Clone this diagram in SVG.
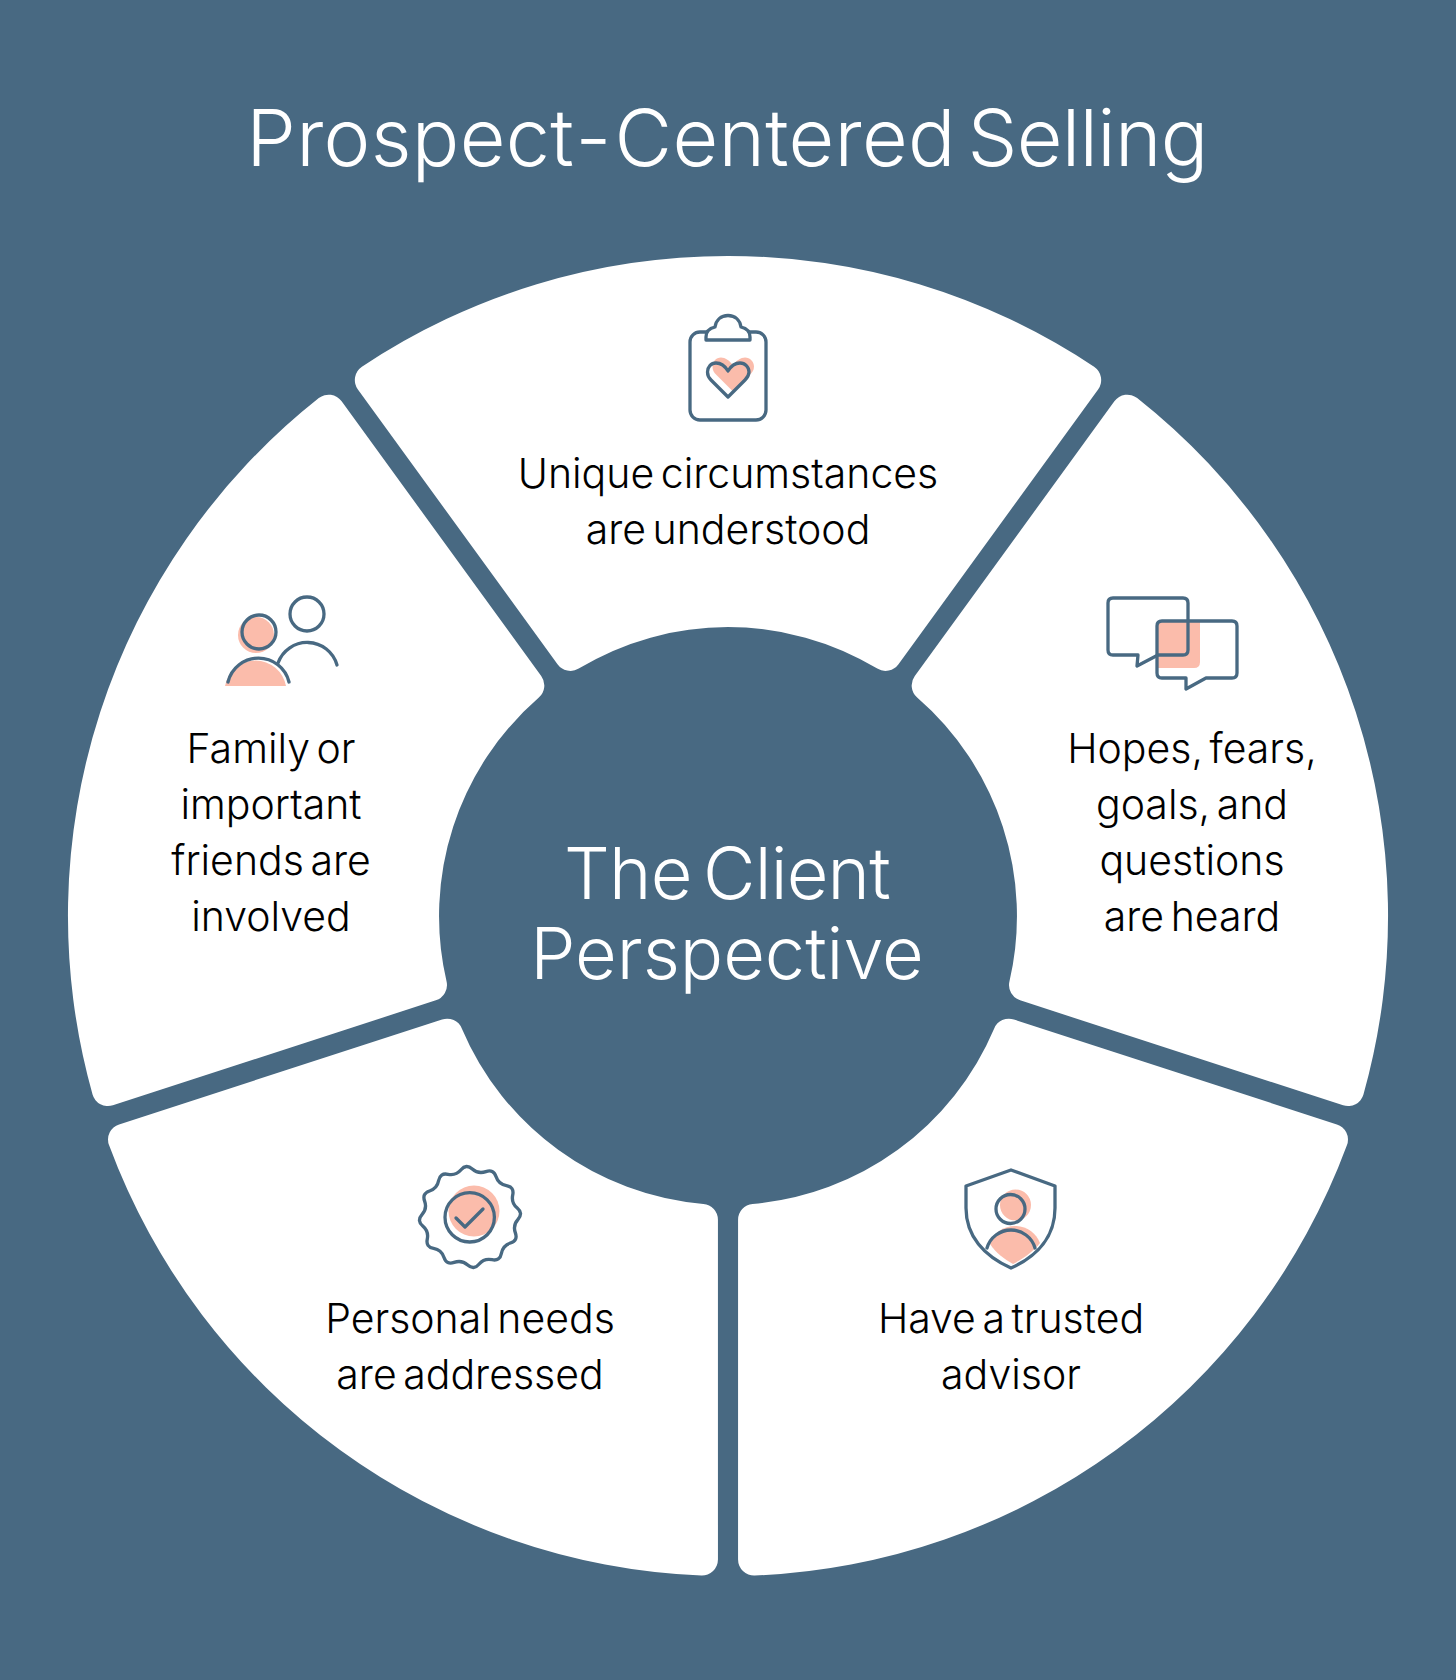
<svg xmlns="http://www.w3.org/2000/svg" width="1456" height="1680" viewBox="0 0 1456 1680">
<style>
.bg{fill:#486982}
.seg{fill:#fff}
.pink{fill:#fbbcab;stroke:none}
.ln{fill:none;stroke:#486982;stroke-width:3.3;stroke-linecap:round;stroke-linejoin:round}
text{font-family:"Inter","Liberation Sans",sans-serif;text-anchor:middle}
.t{font-size:41px;fill:#000;font-weight:360;letter-spacing:0;word-spacing:-5px}
.h{font-size:79px;fill:#fff;font-weight:350;letter-spacing:0.3px;word-spacing:-14px}
.c{font-size:72px;fill:#fff;font-weight:350}
</style>
<defs>
<path id="sector" d="M-366.1,-549.2 A660,660 0 0 1 366.1,-549.2 A16,16 0 0 1 370.1,-526.5 L170.5,-251.8 A16,16 0 0 1 149.3,-247.4 A289,289 0 0 0 -149.3,-247.4 A16,16 0 0 1 -170.5,-251.8 L-370.1,-526.5 A16,16 0 0 1 -366.1,-549.2 Z"/>
<path id="heart" d="M728,371 C725,366 720,363 716,363 C711,363 707.5,367 707.5,372 C707.5,376 709,378 711,380 L728,397 L745,380 C747,378 749,376 749,372 C749,367 745,363 740,363 C736,363 731,366 728,371 Z"/>
</defs>
<rect class="bg" width="1456" height="1680"/>
<text id="title" class="h" x="727" y="166">Prospect<tspan dx="3">-</tspan><tspan dx="3">Centered</tspan> <tspan dx="3" letter-spacing="-0.7">Selling</tspan></text>

<g id="node-top">
<use href="#sector" class="seg" transform="translate(728,916)"/>
<use href="#heart" class="pink" transform="translate(5,-5.5)"/>
<rect class="ln" x="690" y="332" width="76" height="88" rx="10"/>
<path class="ln" style="fill:#fff" d="M706,340 H750 V337 Q750,329 741,327 C740,320 735,315.5 728,315.5 C721,315.5 716,320 715,327 Q706,329 706,337 Z"/>
<use href="#heart" class="ln"/>
<text class="t" x="728" y="488">Unique circumstances</text>
<text class="t" x="728" y="544">are understood</text>
</g>

<g id="node-right">
<use href="#sector" class="seg" transform="translate(728,916) rotate(72)"/>
<path class="pink" d="M1158,622 H1200 V662 Q1200,668 1194,668 H1158 Z"/>
<path class="ln" d="M1113,598 H1183 Q1188,598 1188,603 V650 Q1188,655 1183,655 H1158 L1137,666 L1138,655 H1113 Q1108,655 1108,650 V603 Q1108,598 1113,598 Z"/>
<path class="ln" d="M1162,621 H1232 Q1237,621 1237,626 V673 Q1237,678 1232,678 H1206 L1186,689 V678 H1162 Q1157,678 1157,673 V626 Q1157,621 1162,621 Z"/>
<text class="t" x="1192" y="763">Hopes, fears,</text>
<text class="t" x="1192" y="819">goals, and</text>
<text class="t" x="1192" y="875">questions</text>
<text class="t" x="1192" y="931">are heard</text>
</g>

<g id="node-bottom-right">
<use href="#sector" class="seg" transform="translate(728,916) rotate(144)"/>
<circle class="pink" cx="1015.5" cy="1205" r="15.5"/>
<path class="pink" d="M990,1244 C994,1232 1004,1226 1015,1226 C1027,1226 1036,1233 1040,1243 C1034,1251 1024,1258 1013,1264 C1004,1259 996,1253 990,1244 Z"/>
<path class="ln" d="M1011,1170 L1055,1186 V1208 C1055,1236 1038,1256 1011,1268 C984,1256 966,1236 966,1208 V1186 Z"/>
<circle class="ln" cx="1010.5" cy="1209" r="14.5"/>
<path class="ln" d="M987,1248 A25,25 0 0 1 1035,1248"/>
<text class="t" x="1011" y="1333">Have a trusted</text>
<text class="t" x="1011" y="1389">advisor</text>
</g>

<g id="node-bottom-left">
<use href="#sector" class="seg" transform="translate(728,916) rotate(216)"/>
<circle class="pink" cx="474" cy="1211" r="25.5"/>
<path class="ln" transform="translate(470,1217) rotate(-4) scale(1.01)" d="M5.57,-47.27 Q11.13,-41.53 18.82,-43.72 Q26.5,-45.9 28.46,-38.16 Q30.41,-30.41 38.16,-28.46 Q45.9,-26.5 43.72,-18.82 Q41.53,-11.13 47.27,-5.57 Q53,0 47.27,5.57 Q41.53,11.13 43.72,18.82 Q45.9,26.5 38.16,28.46 Q30.41,30.41 28.46,38.16 Q26.5,45.9 18.82,43.72 Q11.13,41.53 5.57,47.27 Q0,53 -5.57,47.27 Q-11.13,41.53 -18.82,43.72 Q-26.5,45.9 -28.46,38.16 Q-30.41,30.41 -38.16,28.46 Q-45.9,26.5 -43.72,18.82 Q-41.53,11.13 -47.27,5.57 Q-53,0 -47.27,-5.57 Q-41.53,-11.13 -43.72,-18.82 Q-45.9,-26.5 -38.16,-28.46 Q-30.41,-30.41 -28.46,-38.16 Q-26.5,-45.9 -18.82,-43.72 Q-11.13,-41.53 -5.57,-47.27 Q0,-53 5.57,-47.27 Z"/>
<circle class="ln" cx="469.7" cy="1217.3" r="24.7"/>
<path class="ln" d="M456,1218 L465,1227 L483,1209"/>
<text class="t" x="470" y="1333">Personal needs</text>
<text class="t" x="470" y="1389">are addressed</text>
</g>

<g id="node-left">
<use href="#sector" class="seg" transform="translate(728,916) rotate(288)"/>
<circle class="pink" cx="256" cy="635" r="18"/>
<path class="pink" d="M225,686 A31,31 0 0 1 286,686 Z"/>
<circle class="ln" cx="307" cy="614" r="17"/>
<path class="ln" d="M278,663 A31,31 0 0 1 337,665"/>
<circle class="ln" cx="259" cy="632" r="17"/>
<path class="ln" d="M228,682 A31.4,31.4 0 0 1 289,682"/>
<text class="t" x="271" y="763">Family or</text>
<text class="t" x="271" y="819">important</text>
<text class="t" x="271" y="875">friends are</text>
<text class="t" x="271" y="931">involved</text>
</g>

<g id="node-center">
<text class="c" x="727" y="899" letter-spacing="-0.8" word-spacing="-8">The Client</text>
<text class="c" x="727" y="979">Perspective</text>
</g>
<g id="connectors"/>
</svg>
